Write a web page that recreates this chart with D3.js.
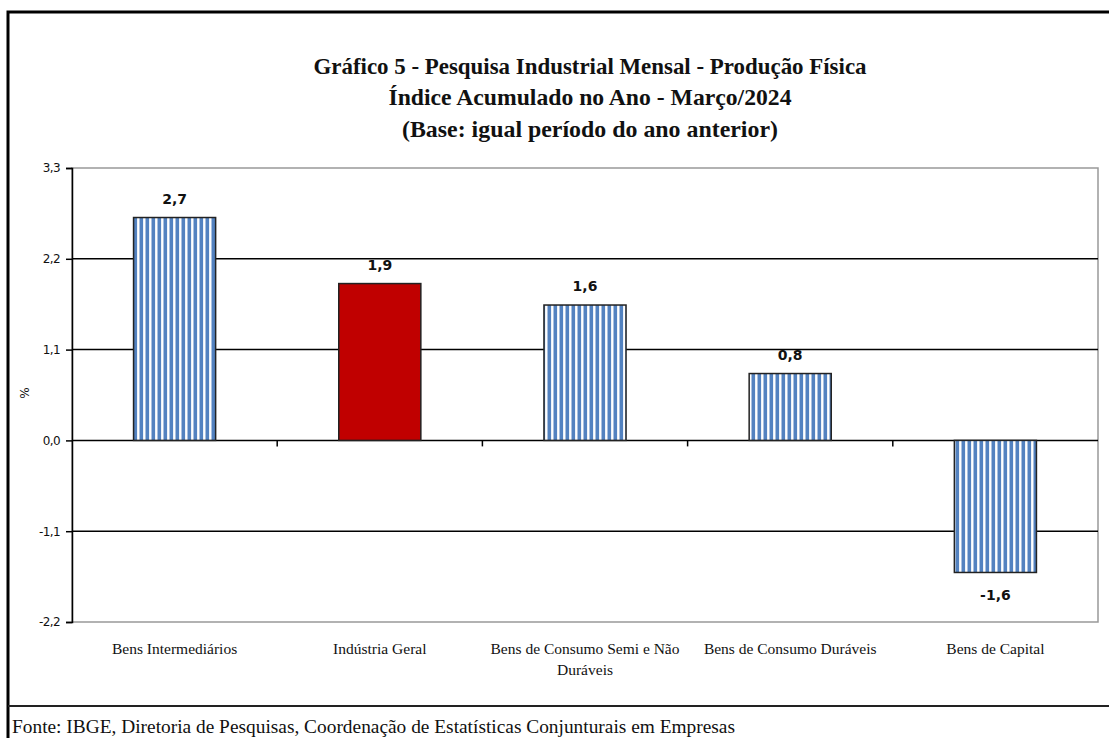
<!DOCTYPE html>
<html><head><meta charset="utf-8">
<script src="https://cdn.jsdelivr.net/npm/d3@7"></script>
<style>body{margin:0;background:#fff}svg{display:block}</style>
</head><body>
<svg id="c" width="1109" height="738"></svg>
<script>
const categories = [["Bens Intermediários"],["Indústria Geral"],["Bens de Consumo Semi e Não","Duráveis"],["Bens de Consumo Duráveis"],["Bens de Capital"]];
const values = [2.7, 1.9, 1.64, 0.81, -1.6];
const valueLabels = ["2,7","1,9","1,6","0,8","-1,6"];
const highlight = [false, true, false, false, false];
const yTicks = [-2.2, -1.1, 0, 1.1, 2.2, 3.3];
const titleLines = ["Gráfico 5 - Pesquisa Industrial Mensal - Produção Física","Índice Acumulado no Ano - Março/2024","(Base: igual período do ano anterior)"];
const source = "Fonte: IBGE, Diretoria de Pesquisas, Coordenação de Estatísticas Conjunturais em Empresas";

const svg = d3.select("#c");
const L = 72, R = 1098, T = 168, B = 622;
const x = d3.scaleBand().domain(d3.range(categories.length)).range([L, R]).paddingInner(0.6).paddingOuter(0.3);
const y = d3.scaleLinear().domain([-2.2, 3.3]).range([B, T]);

// stripe pattern
const defs = svg.append("defs");
const pat = defs.append("pattern").attr("id","stripes").attr("patternUnits","userSpaceOnUse").attr("width",6).attr("height",10).attr("x",133);
pat.append("rect").attr("width",6).attr("height",10).attr("fill","#fff");
pat.append("rect").attr("x",0.5).attr("width",3.6).attr("height",10).attr("fill","#5382c0");

// outer frame
svg.append("path").attr("d","M8,738 V12 H1109").attr("fill","none").attr("stroke","#000").attr("stroke-width",3);
svg.append("line").attr("x1",8).attr("x2",1109).attr("y1",706).attr("y2",706).attr("stroke","#222").attr("stroke-width",2);

// plot border (grey)
svg.append("rect").attr("x",L).attr("y",T).attr("width",R-L).attr("height",B-T).attr("fill","none").attr("stroke","#999").attr("stroke-width",1.5);

// gridlines
svg.append("g").selectAll("line").data(yTicks.filter(d=>d>-2.2 && d<3.3)).join("line")
  .attr("x1",L).attr("x2",R).attr("y1",d=>y(d)).attr("y2",d=>y(d)).attr("stroke","#000").attr("stroke-width",1.5);

// y axis
const yAxis = d3.axisLeft(y).tickValues(yTicks).tickSize(6).tickFormat(d=>d3.format(".1f")(d).replace(".",",").replace("−","-"));
const gy = svg.append("g").attr("transform",`translate(${L},0)`).call(yAxis);
gy.select(".domain").attr("stroke","#000").attr("stroke-width",1.5);
gy.selectAll(".tick line").attr("stroke","#000").attr("stroke-width",1.5);
gy.selectAll(".tick text").attr("font-family","DejaVu Sans, sans-serif").attr("font-size",12).attr("fill","#111").attr("x",-12).attr("letter-spacing","-0.6");

// zero axis ticks at category boundaries
const step = x.step();
svg.append("g").selectAll("line").data(d3.range(1, categories.length)).join("line")
  .attr("x1",d=>L+d*step).attr("x2",d=>L+d*step).attr("y1",y(0)).attr("y2",y(0)+6).attr("stroke","#000").attr("stroke-width",1.5);

// bars
svg.append("g").selectAll("rect").data(values).join("rect")
  .attr("x",(d,i)=>x(i)).attr("width",x.bandwidth())
  .attr("y",d=>y(Math.max(0,d))).attr("height",d=>Math.abs(y(d)-y(0)))
  .attr("fill",(d,i)=>highlight[i]?"#c00000":"url(#stripes)")
  .attr("stroke","#222").attr("stroke-width",1.5);

// value labels
svg.append("g").selectAll("text").data(values).join("text")
  .attr("x",(d,i)=>x(i)+x.bandwidth()/2)
  .attr("y",d=>d>=0? y(d)-14 : y(d)+28)
  .attr("text-anchor","middle").attr("font-family","DejaVu Sans, sans-serif").attr("font-weight","bold").attr("font-size",14).attr("fill","#111")
  .text((d,i)=>valueLabels[i]);

// category labels
const cg = svg.append("g").selectAll("text").data(categories).join("text")
  .attr("x",(d,i)=>x(i)+x.bandwidth()/2).attr("y",654)
  .attr("text-anchor","middle").attr("font-family","Liberation Serif, serif").attr("font-size",15.5).attr("fill","#111");
cg.selectAll("tspan").data(d=>d).join("tspan")
  .attr("x",function(){return d3.select(this.parentNode).attr("x");})
  .attr("dy",(d,j)=>j===0?0:21).text(d=>d);

// % label
svg.append("text").attr("transform","translate(29,393) rotate(-90)").attr("text-anchor","middle")
  .attr("font-family","DejaVu Sans, sans-serif").attr("font-size",12).attr("fill","#111").text("%");

// title
const tw = [553, 403, 376];
const ty = [74, 105, 137];
svg.append("g").selectAll("text").data(titleLines).join("text")
  .attr("x",590).attr("y",(d,i)=>ty[i]).attr("text-anchor","middle")
  .attr("font-family","Liberation Serif, serif").attr("font-weight","bold").attr("font-size",23).attr("fill","#111")
  .attr("textLength",(d,i)=>tw[i]).attr("lengthAdjust","spacingAndGlyphs").text(d=>d);

// source
svg.append("text").attr("x",12).attr("y",733).attr("font-family","Liberation Serif, serif").attr("font-size",18).attr("fill","#111")
  .attr("textLength",723).attr("lengthAdjust","spacingAndGlyphs").text(source);
</script>
</body></html>
